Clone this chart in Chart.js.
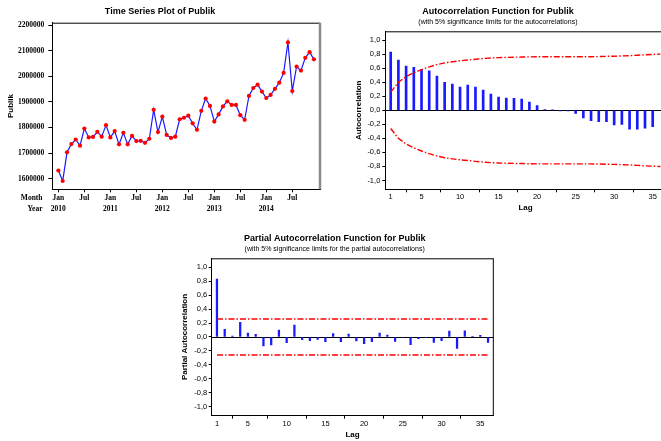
<!DOCTYPE html>
<html>
<head>
<meta charset="utf-8">
<script src="https://cdn.jsdelivr.net/npm/chart.js@4.4.0/dist/chart.umd.min.js"></script>
<style>
    html, body { margin: 0; padding: 0; background: #fff; overflow: hidden; width: 661px; height: 441px; }
    canvas { position: absolute; }
</style>
</head>
<body>
<canvas id="chartTren" width="330" height="220" style="left:0;top:0"></canvas>
<canvas id="chartAcf" width="370" height="220" style="left:330px;top:0"></canvas>
<canvas id="chartPacf" width="327" height="216" style="left:176px;top:225px"></canvas>
<script>
// ==== DATA ====
const bulan = ['Jan', 'Feb', 'Mar', 'Apr', 'May', 'Jun', 'Jul', 'Aug', 'Sep', 'Oct', 'Nov', 'Dec'];
const tahun = ['2010', '2011', '2012', '2013', '2014'];
const publik = [
    1632000, 1591000, 1703000, 1735000, 1753000, 1729000, 1796000, 1761000, 1763000, 1783000, 1764000, 1809000,
    1761000, 1786000, 1734000, 1779000, 1734000, 1767000, 1747000, 1748000, 1740000, 1756000, 1869000, 1782000,
    1842000, 1771000, 1759000, 1764000, 1832000, 1838000, 1846000, 1816000, 1791000, 1865000, 1913000, 1884000,
    1823000, 1851000, 1882000, 1902000, 1888000, 1888000, 1848000, 1830000, 1923000, 1954000, 1967000, 1940000,
    1915000, 1927000, 1951000, 1975000, 2013000, 2132000, 1942000, 2038000, 2022000, 2072000, 2094000, 2066000
];
const trenYTicks = [1600000, 1700000, 1800000, 1900000, 2000000, 2100000, 2200000];
const trenXTicks = [0, 6, 12, 18, 24, 30, 36, 42, 48, 54]; // urutan bulan yang diberi label

const lag = [1, 2, 3, 4, 5, 6, 7, 8, 9, 10, 11, 12, 13, 14, 15, 16, 17, 18,
             19, 20, 21, 22, 23, 24, 25, 26, 27, 28, 29, 30, 31, 32, 33, 34, 35, 36];
const acf = [0.829, 0.716, 0.630, 0.611, 0.583, 0.564, 0.488, 0.398, 0.374, 0.332, 0.360, 0.332,
             0.289, 0.232, 0.190, 0.175, 0.171, 0.161, 0.118, 0.066, 0.010, 0.005, -0.005, -0.010,
             -0.043, -0.109, -0.147, -0.161, -0.161, -0.208, -0.203, -0.270, -0.270, -0.255, -0.232];
const acfBatasAtas = [0.26, 0.40, 0.48, 0.535, 0.58, 0.618, 0.652, 0.676, 0.692, 0.706, 0.716, 0.728,
                      0.738, 0.746, 0.751, 0.754, 0.757, 0.759, 0.762, 0.763, 0.763, 0.763, 0.763, 0.763,
                      0.763, 0.763, 0.764, 0.766, 0.769, 0.771, 0.775, 0.779, 0.785, 0.791, 0.797, 0.80];
const acfBatasBawah = [-0.26, -0.40, -0.48, -0.535, -0.58, -0.618, -0.652, -0.676, -0.692, -0.706, -0.716, -0.728,
                       -0.738, -0.746, -0.751, -0.754, -0.757, -0.759, -0.762, -0.763, -0.763, -0.763, -0.763, -0.763,
                       -0.763, -0.763, -0.764, -0.766, -0.769, -0.771, -0.775, -0.779, -0.785, -0.791, -0.797, -0.80];
const pacf = [0.833, 0.110, 0.014, 0.210, 0.057, 0.038, -0.127, -0.112, 0.100, -0.080, 0.172, -0.040,
              -0.053, -0.033, -0.067, 0.048, -0.067, 0.043, -0.057, -0.094, -0.067, 0.057, 0.029, -0.062,
              -0.005, -0.110, -0.024, -0.010, -0.077, -0.053, 0.086, -0.163, 0.090, 0.010, 0.024, -0.077];
const pacfBatasAtas = 0.258;
const pacfBatasBawah = -0.258;
const korelasiTicks = [-1, -0.8, -0.6, -0.4, -0.2, 0, 0.2, 0.4, 0.6, 0.8, 1];
const lagTicks = [1, 5, 10, 15, 20, 25, 30, 35];

// ==== GAYA ====
const sans = "'Liberation Sans', Arial, sans-serif";
const serif = "'Liberation Serif', 'Times New Roman', serif";
const merah = '#ff0000';
const biru = '#1a1aff';
const putusTitik = [6, 2, 1.5, 2];

Chart.defaults.color = '#000';
Chart.defaults.animation = false;

// garis nol, bingkai atas/kanan, label "Month"/"Year"
const bingkai = {
    id: 'bingkai',
    beforeDatasetsDraw(chart, args, opts) {
        if (!opts.garisNol) return;
        const { ctx, chartArea: a, scales } = chart;
        const y0 = Math.round(scales.y.getPixelForValue(0)) + 0.5;
        ctx.save();
        ctx.strokeStyle = '#000';
        ctx.lineWidth = 1;
        ctx.beginPath();
        ctx.moveTo(a.left, y0);
        ctx.lineTo(a.right, y0);
        ctx.stroke();
        ctx.restore();
    },
    afterDraw(chart, args, opts) {
        const { ctx, chartArea: a } = chart;
        ctx.save();
        ctx.strokeStyle = '#000';
        ctx.lineWidth = 1;
        ctx.beginPath();
        ctx.moveTo(a.left, a.top + 0.5);
        ctx.lineTo(a.right, a.top + 0.5);
        ctx.stroke();
        ctx.strokeStyle = opts.warnaKanan || '#000';
        ctx.lineWidth = opts.tebalKanan || 1;
        ctx.beginPath();
        ctx.moveTo(a.right, a.top);
        ctx.lineTo(a.right, a.bottom);
        ctx.stroke();
        if (opts.labelKiri) {
            ctx.fillStyle = '#000';
            ctx.font = 'bold 7.5px ' + serif;
            ctx.textAlign = 'right';
            ctx.textBaseline = 'middle';
            ctx.fillText(opts.labelKiri[0], 42.5, a.bottom + 8.5);
            ctx.fillText(opts.labelKiri[1], 42.5, a.bottom + 19.5);
        }
        ctx.restore();
    }
};

function lebarTetap(w) { return function(scale) { scale.width = w; }; }
function tinggiTetap(h) { return function(scale) { scale.height = h; }; }
function koma(v) { return v.toFixed(1).replace('.', ','); }

// 1. TIME SERIES PLOT
new Chart(document.getElementById('chartTren'), {
    type: 'line',
    data: {
        datasets: [{
            data: publik.map((v, i) => ({ x: i, y: v })),
            borderColor: biru,
            borderWidth: 1.2,
            pointBackgroundColor: merah,
            pointBorderWidth: 0,
            pointRadius: 2.1,
            tension: 0
        }]
    },
    options: {
        responsive: false,
        layout: { padding: { left: 0, right: 10, top: 0, bottom: 0 } },
        plugins: {
            legend: { display: false },
            tooltip: { enabled: false },
            title: {
                display: true,
                text: 'Time Series Plot of Publik',
                font: { family: sans, size: 9, weight: 'bold' },
                padding: { top: 6.5, bottom: 5.4 }
            },
            bingkai: { warnaKanan: '#8c8c8c', tebalKanan: 2.5, labelKiri: ['Month', 'Year'] }
        },
        scales: {
            x: {
                type: 'linear',
                min: -1.4,
                max: 60.4,
                afterFit: tinggiTetap(30.7),
                afterBuildTicks: s => { s.ticks = trenXTicks.map(v => ({ value: v })); },
                grid: { drawOnChartArea: false, tickLength: 3, color: '#000' },
                border: { color: '#000' },
                ticks: {
                    padding: 0,
                    maxRotation: 0,
                    autoSkip: false,
                    font: { family: serif, size: 7.5, weight: 'bold', lineHeight: '11px' },
                    callback: v => [bulan[v % 12], v % 12 === 0 ? tahun[v / 12] : '']
                }
            },
            y: {
                min: 1558600,
                max: 2209000,
                afterFit: lebarTetap(52.3),
                afterBuildTicks: s => { s.ticks = trenYTicks.map(v => ({ value: v })); },
                grid: { drawOnChartArea: false, tickLength: 4, color: '#000' },
                border: { color: '#000' },
                title: {
                    display: true,
                    text: 'Publik',
                    font: { family: sans, size: 8, weight: 'bold' },
                    padding: { top: 5.7, bottom: 0 }
                },
                ticks: {
                    padding: 4,
                    font: { family: serif, size: 7.5, weight: 'bold' },
                    callback: v => String(v)
                }
            }
        }
    },
    plugins: [bingkai]
});

// 2. AUTOCORRELATION FUNCTION
new Chart(document.getElementById('chartAcf'), {
    type: 'bar',
    data: {
        datasets: [{
            type: 'bar',
            data: acf.map((v, i) => ({ x: lag[i], y: v })),
            backgroundColor: biru,
            barThickness: 2,
            order: 2
        }, {
            type: 'line',
            data: acfBatasAtas.map((v, i) => ({ x: lag[i], y: v })),
            borderColor: merah,
            borderWidth: 1.4,
            borderDash: putusTitik,
            pointRadius: 0,
            tension: 0,
            order: 1
        }, {
            type: 'line',
            data: acfBatasBawah.map((v, i) => ({ x: lag[i], y: v })),
            borderColor: merah,
            borderWidth: 1.4,
            borderDash: putusTitik,
            pointRadius: 0,
            tension: 0,
            order: 1
        }]
    },
    options: {
        responsive: false,
        layout: { padding: { left: 0, right: 34.2, top: 0, bottom: 0 } },
        plugins: {
            legend: { display: false },
            tooltip: { enabled: false },
            title: {
                display: true,
                text: 'Autocorrelation Function for Publik',
                font: { family: sans, size: 9, weight: 'bold' },
                padding: { top: 6.6, bottom: 0 }
            },
            subtitle: {
                display: true,
                text: '(with 5% significance limits for the autocorrelations)',
                font: { family: sans, size: 7 },
                padding: { top: 0.4, bottom: 5.1 }
            },
            bingkai: { garisNol: true }
        },
        scales: {
            x: {
                type: 'linear',
                min: 0.3,
                max: 36.7,
                offset: false,
                afterFit: tinggiTetap(30.7),
                afterBuildTicks: s => { s.ticks = lagTicks.map(v => ({ value: v })); },
                grid: { drawOnChartArea: false, tickLength: 3, color: '#000' },
                border: { color: '#000' },
                title: {
                    display: true,
                    text: 'Lag',
                    font: { family: sans, size: 8, weight: 'bold' },
                    padding: { top: 0, bottom: 7.5 }
                },
                ticks: { padding: 0, maxRotation: 0, font: { family: sans, size: 7.5 } }
            },
            y: {
                min: -1.126,
                max: 1.126,
                afterFit: lebarTetap(55.3),
                afterBuildTicks: s => { s.ticks = korelasiTicks.map(v => ({ value: v })); },
                grid: { drawOnChartArea: false, tickLength: 3, color: '#000' },
                border: { color: '#000' },
                title: {
                    display: true,
                    text: 'Autocorrelation',
                    font: { family: sans, size: 8, weight: 'bold' },
                    padding: { top: 23.7, bottom: 0 }
                },
                ticks: { padding: 2, font: { family: sans, size: 7.5 }, callback: koma }
            }
        }
    },
    plugins: [bingkai]
});

// 3. PARTIAL AUTOCORRELATION FUNCTION
new Chart(document.getElementById('chartPacf'), {
    type: 'bar',
    data: {
        datasets: [{
            type: 'bar',
            data: pacf.map((v, i) => ({ x: lag[i], y: v })),
            backgroundColor: biru,
            barThickness: 1.6,
            order: 2
        }, {
            type: 'line',
            data: [{ x: lag[0], y: pacfBatasAtas }, { x: lag[lag.length - 1], y: pacfBatasAtas }],
            borderColor: merah,
            borderWidth: 1.4,
            borderDash: putusTitik,
            pointRadius: 0,
            order: 1
        }, {
            type: 'line',
            data: [{ x: lag[0], y: pacfBatasBawah }, { x: lag[lag.length - 1], y: pacfBatasBawah }],
            borderColor: merah,
            borderWidth: 1.4,
            borderDash: putusTitik,
            pointRadius: 0,
            order: 1
        }]
    },
    options: {
        responsive: false,
        layout: { padding: { left: 0, right: 9.7, top: 0, bottom: 0 } },
        plugins: {
            legend: { display: false },
            tooltip: { enabled: false },
            title: {
                display: true,
                text: 'Partial Autocorrelation Function for Publik',
                font: { family: sans, size: 9, weight: 'bold' },
                padding: { top: 8.1, bottom: 0 }
            },
            subtitle: {
                display: true,
                text: '(with 5% significance limits for the partial autocorrelations)',
                font: { family: sans, size: 7 },
                padding: { top: 0.6, bottom: 5.4 }
            },
            bingkai: { garisNol: true }
        },
        scales: {
            x: {
                type: 'linear',
                min: 0.32,
                max: 36.68,
                offset: false,
                afterFit: tinggiTetap(25.3),
                afterBuildTicks: s => { s.ticks = lagTicks.map(v => ({ value: v })); },
                grid: { drawOnChartArea: false, tickLength: 3, color: '#000' },
                border: { color: '#000' },
                title: {
                    display: true,
                    text: 'Lag',
                    font: { family: sans, size: 8, weight: 'bold' },
                    padding: { top: 0, bottom: 1.2 }
                },
                ticks: { padding: 1, maxRotation: 0, font: { family: sans, size: 7.5 } }
            },
            y: {
                min: -1.13,
                max: 1.13,
                afterFit: lebarTetap(35.7),
                afterBuildTicks: s => { s.ticks = korelasiTicks.map(v => ({ value: v })); },
                grid: { drawOnChartArea: false, tickLength: 3, color: '#000' },
                border: { color: '#000' },
                title: {
                    display: true,
                    text: 'Partial Autocorrelation',
                    font: { family: sans, size: 8, weight: 'bold' },
                    padding: { top: 4.2, bottom: 0 }
                },
                ticks: { padding: 1.5, font: { family: sans, size: 7.5 }, callback: koma }
            }
        }
    },
    plugins: [bingkai]
});
</script>
</body>
</html>
